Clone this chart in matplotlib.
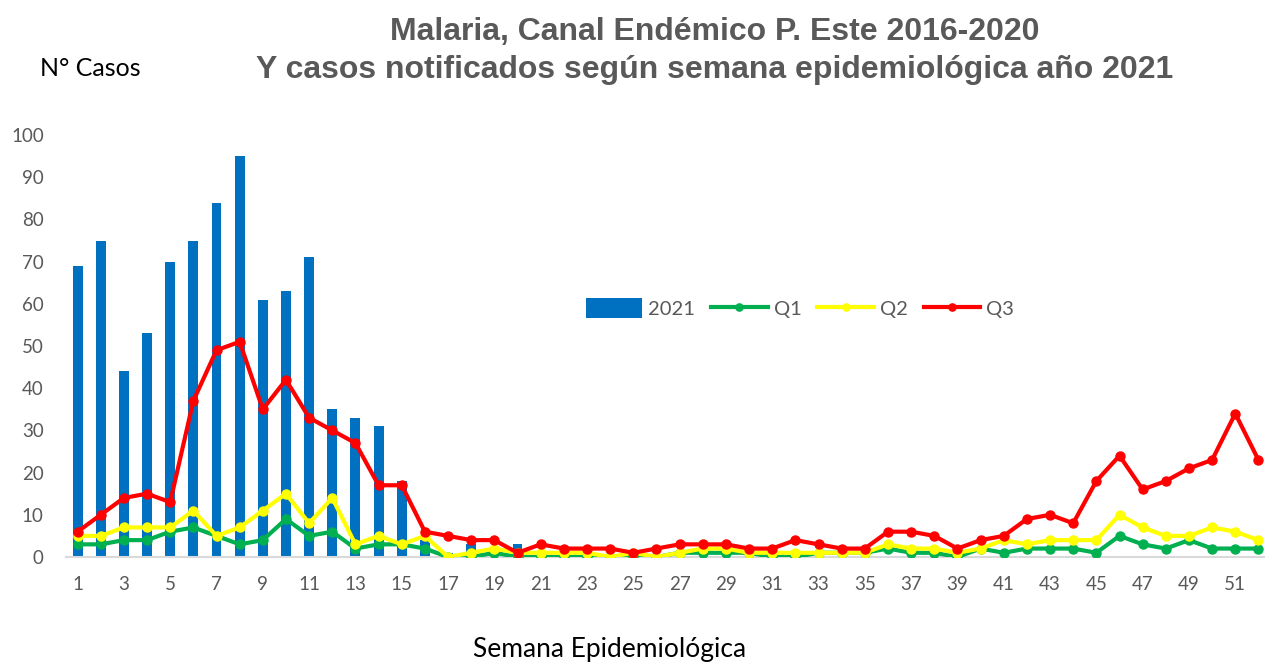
import matplotlib.pyplot as plt

weeks = list(range(1, 53))
casos_2021 = [69, 75, 44, 53, 70, 75, 84, 95, 61, 63, 71, 35, 33, 31, 18,
              4, 1, 3, 1, 3] + [0] * 32
q1 = [3, 3, 4, 4, 6, 7, 5, 3, 4, 9, 5, 6, 2, 3, 3, 2, 0, 0, 1, 0, 0, 0, 0, 0, 0, 0,
      1, 1, 1, 1, 0, 0, 1, 1, 1, 2, 1, 1, 0, 2, 1, 2, 2, 2, 1, 5, 3, 2, 4, 2, 2, 2]
q2 = [5, 5, 7, 7, 7, 11, 5, 7, 11, 15, 8, 14, 3, 5, 3, 5, 0, 1, 2, 1, 1, 1, 1, 0, 1, 0,
      1, 2, 2, 1, 1, 1, 1, 1, 1, 3, 2, 2, 1, 2, 4, 3, 4, 4, 4, 10, 7, 5, 5, 7, 6, 4]
q3 = [6, 10, 14, 15, 13, 37, 49, 51, 35, 42, 33, 30, 27, 17, 17, 6, 5, 4, 4, 1, 3, 2, 2, 2, 1, 2,
      3, 3, 3, 2, 2, 4, 3, 2, 2, 6, 6, 5, 2, 4, 5, 9, 10, 8, 18, 24, 16, 18, 21, 23, 34, 23]
xticks = list(range(1, 52, 2))
yticks = list(range(0, 101, 10))

gray = "#595959"
plt.rcParams['font.family'] = ['Lato', 'DejaVu Sans']

fig = plt.figure(figsize=(12.65, 6.63), dpi=100)
ax = fig.add_axes([66 / 1265, 1 - 557 / 663, 1204 / 1265, 422 / 663])

bars = ax.bar(weeks, casos_2021, width=0.43, color="#0070C0", label="2021", zorder=2)
l1, = ax.plot(weeks, q1, color="#00B050", lw=3, marker="o", ms=6.5, label="Q1", zorder=3)
l2, = ax.plot(weeks, q2, color="#FFFF00", lw=3, marker="o", ms=6.5, label="Q2", zorder=4)
l3, = ax.plot(weeks, q3, color="#FF0000", lw=3, marker="o", ms=6.5, label="Q3", zorder=5)

ax.set_xlim(0.5, 52.5)
ax.set_ylim(0, 100)
ax.set_xticks(xticks)
ax.set_yticks(yticks)
ax.tick_params(axis="both", length=0, labelsize=13.5, labelcolor=gray)
ax.tick_params(axis="x", pad=14)
ax.tick_params(axis="y", pad=16)
for s in ["top", "right", "left"]:
    ax.spines[s].set_visible(False)
ax.spines["bottom"].set_color("#D9D9D9")
ax.spines["bottom"].set_linewidth(1.5)

leg = ax.legend([bars, l1, l2, l3], ["2021", "Q1", "Q2", "Q3"],
                loc="center", bbox_to_anchor=(800 / 1265, 1 - 308 / 663),
                bbox_transform=fig.transFigure, ncol=4, frameon=False,
                fontsize=14.5, handlelength=2.8, handleheight=1.1,
                handletextpad=0.3, columnspacing=0.8, markerscale=0.8)
for t in leg.get_texts():
    t.set_color(gray)

fig.text(715 / 1265, 1 - 51 / 663,
         "Malaria, Canal Endémico P. Este 2016-2020\nY casos notificados según semana epidemiológica año 2021",
         ha="center", va="center", fontsize=23, fontweight="bold", color=gray,
         family=["Liberation Sans", "DejaVu Sans"], linespacing=1.38)
fig.text(40 / 1265, 1 - 68 / 663, "N° Casos", ha="left", va="center", fontsize=18, color="black")
fig.text(610 / 1265, 1 - 650 / 663, "Semana Epidemiológica", ha="center", va="center",
         fontsize=19, color="black")

fig.savefig("out.png", dpi=100)
